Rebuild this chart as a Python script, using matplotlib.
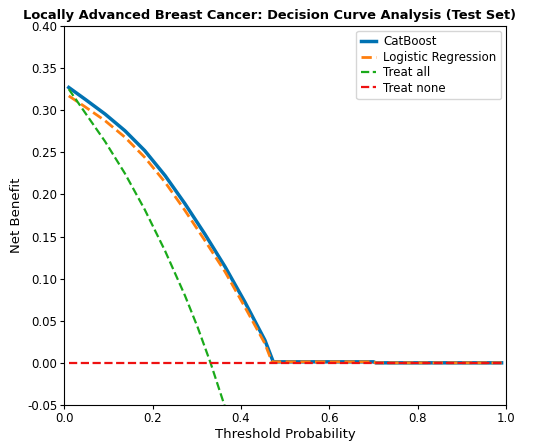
import matplotlib
matplotlib.use("Agg")
import matplotlib.pyplot as plt
from matplotlib.ticker import FormatStrFormatter

# CatBoost net benefit
cat_x = [0.01, 0.047, 0.092, 0.137, 0.182, 0.228, 0.273, 0.318, 0.364, 0.409, 0.454, 0.473,
         0.55, 0.65, 0.70, 0.705, 0.80, 0.90, 0.99]
cat_y = [0.327, 0.313, 0.2955, 0.2757, 0.252, 0.2224, 0.189, 0.153, 0.114, 0.072, 0.027, 0.0012,
         0.0012, 0.0012, 0.0012, 0.0, 0.0, 0.0, 0.0]

# Logistic Regression net benefit
lr_x = [0.01, 0.047, 0.092, 0.137, 0.182, 0.228, 0.273, 0.318, 0.364, 0.409, 0.454, 0.470,
        0.55, 0.65, 0.70, 0.705, 0.80, 0.90, 0.99]
lr_y = [0.317, 0.304, 0.2876, 0.268, 0.244, 0.2145, 0.181, 0.1454, 0.108, 0.066, 0.023, 0.0012,
        0.0012, 0.0012, 0.0012, 0.0, 0.0, 0.0, 0.0]

# Treat all
all_x = [0.01, 0.047, 0.092, 0.137, 0.182, 0.228, 0.273, 0.302, 0.331, 0.361, 0.38]
all_y = [0.325, 0.297, 0.263, 0.225, 0.182, 0.133, 0.080, 0.042, 0.0, -0.048, -0.078]

# Treat none
none_x = [0.01, 0.99]
none_y = [0.0, 0.0]

fig = plt.figure(figsize=(5.5, 4.45), dpi=100)
ax = fig.add_axes([0.117, 0.09, 0.803, 0.8516])

ax.plot(cat_x, cat_y, color='#0072B2', lw=2.5, label='CatBoost')
ax.plot(lr_x, lr_y, color='#FF7F0E', lw=2, ls='--', label='Logistic Regression')
ax.plot(all_x, all_y, color='#1AAA1A', lw=1.6, ls='--', label='Treat all')
ax.plot(none_x, none_y, color='#EE1111', lw=1.6, ls='--', label='Treat none')

ax.set_xlim(0, 1)
ax.set_ylim(-0.05, 0.40)
ax.set_xticks([0.0, 0.2, 0.4, 0.6, 0.8, 1.0])
ax.set_yticks([-0.05, 0, 0.05, 0.10, 0.15, 0.20, 0.25, 0.30, 0.35, 0.40])
ax.yaxis.set_major_formatter(FormatStrFormatter('%.2f'))
ax.xaxis.set_major_formatter(FormatStrFormatter('%.1f'))
ax.tick_params(labelsize=8.5, length=3, pad=2)
ax.set_xlabel('Threshold Probability', fontsize=9.5, labelpad=2)
ax.set_ylabel('Net Benefit', fontsize=9.5, labelpad=3)
ax.set_title('Locally Advanced Breast Cancer: Decision Curve Analysis (Test Set)',
             fontsize=9.4, fontweight='bold', pad=5, x=0.4655)
ax.legend(loc='upper right', fontsize=8.5, labelspacing=0.2, handlelength=1.3,
          handletextpad=0.6, borderaxespad=0.4)

fig.savefig('out.png', dpi=100)
